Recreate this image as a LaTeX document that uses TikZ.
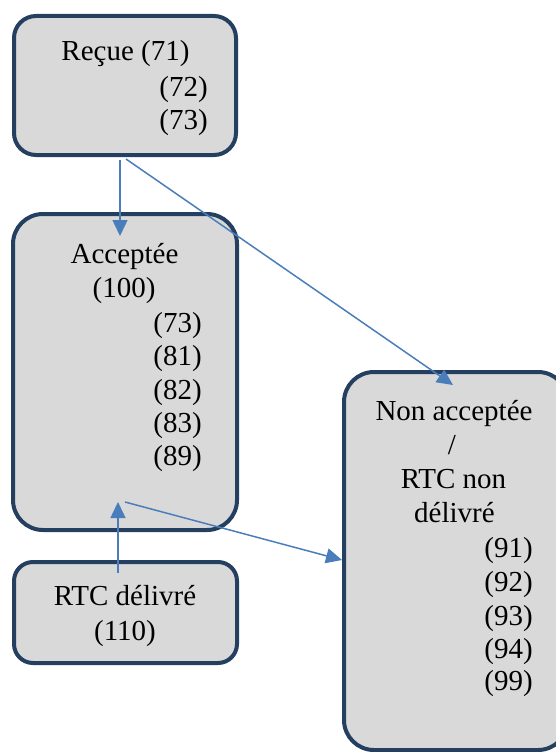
\documentclass[tikz,border=0pt]{standalone}
\usepackage{fontspec}
\setmainfont{Liberation Serif}
\usetikzlibrary{arrows.meta}
\definecolor{boxfill}{HTML}{D9D9D9}
\definecolor{boxline}{HTML}{243F60}
\definecolor{arrowc}{HTML}{4A7EBB}
\begin{document}
\begin{tikzpicture}[x=1pt,y=-1pt,
  statebox/.style={draw=boxline, fill=boxfill, line width=4pt, inner sep=0pt},
  lbl/.style={font=\fontsize{29}{33}\selectfont, inner sep=0pt, anchor=base},
  lblr/.style={lbl, anchor=base east},
  conn/.style={draw=arrowc, line width=1.5pt, -{Triangle[length=16pt,width=15pt]}}]
\useasboundingbox (0,0) rectangle (556,752);
% boxes
\node[statebox, rounded corners=22pt, minimum width=222pt, minimum height=139pt] (recue) at (125,85.5) {};
\node[statebox, rounded corners=30pt, minimum width=224pt, minimum height=316pt] (accept) at (125,372) {};
\node[statebox, rounded corners=19pt, minimum width=223pt, minimum height=101pt] (rtc) at (125.5,612.5) {};
\node[statebox, rounded corners=30pt, minimum width=224pt, minimum height=378pt] (nonacc) at (456,561) {};
% connector end points
\coordinate (a1s) at (120,160);
\coordinate (a1e) at (120,236);
\coordinate (a2s) at (126,159);
\coordinate (a2e) at (453,385);
\coordinate (a3s) at (118,573);
\coordinate (a3e) at (118,502);
\coordinate (a4s) at (125,502);
\coordinate (a4e) at (342,560);
\draw[conn] (a1s) -- (a1e);
\draw[conn] (a2s) -- (a2e);
\draw[conn] (a3s) -- (a3e);
\draw[conn] (a4s) -- (a4e);
% texts: Reçue
\node[lbl] (r1) at (125.5,61) {Reçue (71)};
\node[lblr] (r2) at (208,96) {(72)};
\node[lblr] (r3) at (208,129) {(73)};
% Acceptée
\node[lbl] (c1) at (124.5,263) {Acceptée};
\node[lbl] (c2) at (124,297) {(100)};
\node[lblr] (c3) at (202,332) {(73)};
\node[lblr] (c4) at (202,365) {(81)};
\node[lblr] (c5) at (202,399) {(82)};
\node[lblr] (c6) at (202,432) {(83)};
\node[lblr] (c7) at (202,465) {(89)};
% RTC délivré
\node[lbl] (d1) at (125,605) {RTC délivré};
\node[lbl] (d2) at (125,640) {(110)};
% Non acceptée
\node[lbl] (n1) at (454,420) {Non acceptée};
\node[lbl] (n2) at (452,454) {/};
\node[lbl] (n3) at (453.5,488) {RTC non};
\node[lbl] (n4) at (454.5,522) {délivré};
\node[lblr] (n5) at (533,557) {(91)};
\node[lblr] (n6) at (533,591) {(92)};
\node[lblr] (n7) at (533,625) {(93)};
\node[lblr] (n8) at (533,658) {(94)};
\node[lblr] (n9) at (533,690) {(99)};
\end{tikzpicture}
\end{document}
